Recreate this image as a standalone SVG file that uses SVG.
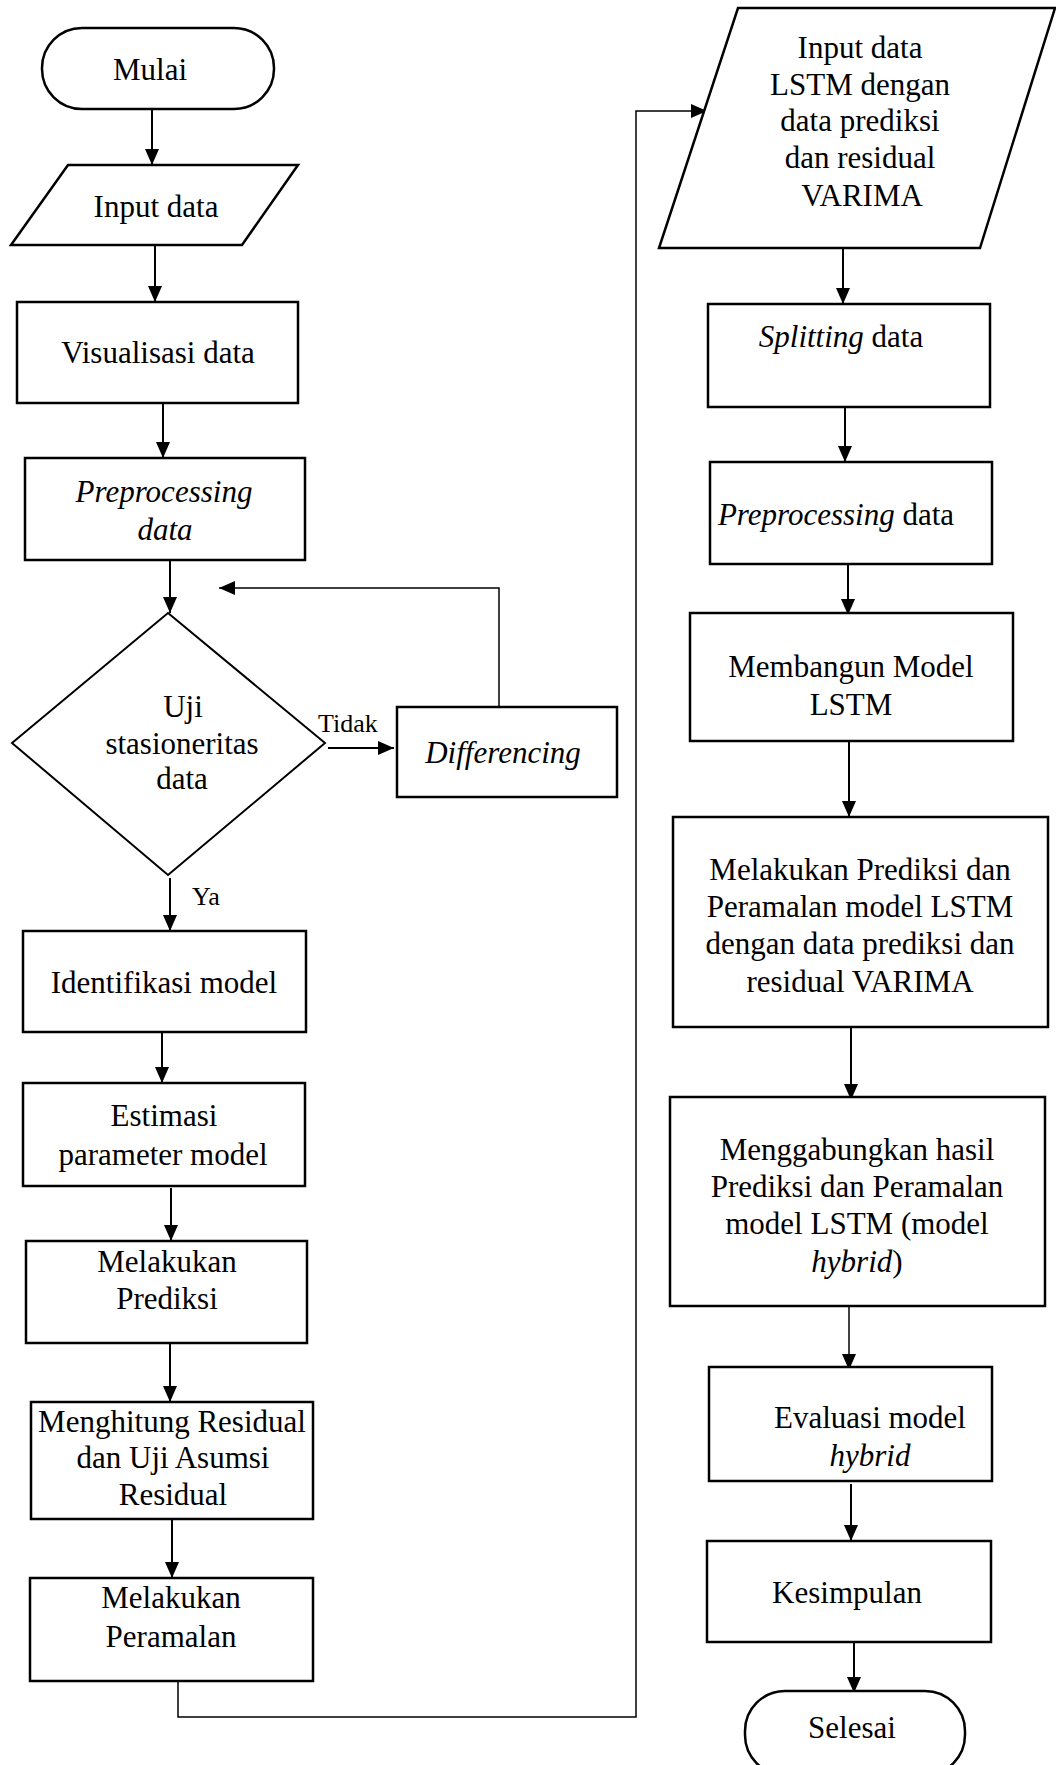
<svg xmlns="http://www.w3.org/2000/svg" width="1056" height="1765" viewBox="0 0 1056 1765">
<style>
.sh{fill:#fff;stroke:#000;stroke-width:2.5}
.t{font-family:"Liberation Serif","Times New Roman",serif;font-size:31px;fill:#000;text-anchor:middle}
.s{font-family:"Liberation Serif","Times New Roman",serif;font-size:26px;fill:#000}
.i{font-style:italic}
.c{fill:none;stroke:#000;stroke-width:2}
.c1{fill:none;stroke:#000;stroke-width:1.5}
</style>
<defs>
<marker id="ah" viewBox="0 0 16 14" refX="16" refY="7" markerWidth="16" markerHeight="14" markerUnits="userSpaceOnUse" orient="auto">
<path d="M0,0 L16,7 L0,14 z" fill="#000"/>
</marker>
</defs>
<rect width="1056" height="1765" fill="#fff"/>
<g id="connectors">
<line class="c" x1="152" y1="109" x2="152" y2="165" marker-end="url(#ah)"/>
<line class="c" x1="155" y1="245" x2="155" y2="302" marker-end="url(#ah)"/>
<line class="c" x1="163" y1="403" x2="163" y2="458" marker-end="url(#ah)"/>
<line class="c" x1="170" y1="560" x2="170" y2="613" marker-end="url(#ah)"/>
<line class="c" x1="328" y1="748" x2="394" y2="748" marker-end="url(#ah)"/>
<polyline class="c1" points="499,707 499,588 219,588" marker-end="url(#ah)"/>
<line class="c" x1="170" y1="878" x2="170" y2="931" marker-end="url(#ah)"/>
<line class="c" x1="162" y1="1026" x2="162" y2="1083" marker-end="url(#ah)"/>
<line class="c" x1="171" y1="1188" x2="171" y2="1241" marker-end="url(#ah)"/>
<line class="c" x1="170" y1="1343" x2="170" y2="1402" marker-end="url(#ah)"/>
<line class="c" x1="172" y1="1515" x2="172" y2="1578" marker-end="url(#ah)"/>
<polyline class="c1" points="178,1681 178,1717 636,1717 636,111 707,111" marker-end="url(#ah)"/>
<line class="c" x1="843" y1="248" x2="843" y2="304" marker-end="url(#ah)"/>
<line class="c" x1="845" y1="407" x2="845" y2="462" marker-end="url(#ah)"/>
<line class="c" x1="848" y1="561" x2="848" y2="615" marker-end="url(#ah)"/>
<line class="c" x1="849" y1="741" x2="849" y2="817" marker-end="url(#ah)"/>
<line class="c" x1="851" y1="1027" x2="851" y2="1100" marker-end="url(#ah)"/>
<line class="c1" x1="849" y1="1306" x2="849" y2="1370" marker-end="url(#ah)"/>
<line class="c" x1="851" y1="1484" x2="851" y2="1541" marker-end="url(#ah)"/>
<line class="c" x1="854" y1="1640" x2="854" y2="1693" marker-end="url(#ah)"/>
</g>
<g id="mulai">
<rect class="sh" x="42" y="28" width="232" height="81" rx="40" ry="40"/>
<text class="t" x="150" y="80">Mulai</text>
</g>
<g id="input-data">
<polygon class="sh" points="68,165 298,165 242,245 11,245"/>
<text class="t" x="156" y="217">Input data</text>
</g>
<g id="visualisasi">
<rect class="sh" x="17" y="302" width="281" height="101"/>
<text class="t" x="158" y="363">Visualisasi data</text>
</g>
<g id="preprocessing1">
<rect class="sh" x="25" y="458" width="280" height="102"/>
<text class="t i" x="164" y="502">Preprocessing</text>
<text class="t i" x="165" y="540">data</text>
</g>
<g id="uji">
<polygon class="sh" style="stroke-width:2" points="168,613 325,743 168,875 12,743"/>
<text class="t" x="183" y="717">Uji</text>
<text class="t" x="182" y="754">stasioneritas</text>
<text class="t" x="182" y="789">data</text>
<text class="s" x="318" y="732">Tidak</text>
<text class="s" x="192" y="905">Ya</text>
</g>
<g id="differencing">
<rect class="sh" x="397" y="707" width="220" height="90"/>
<text class="t i" x="503" y="763">Differencing</text>
</g>
<g id="identifikasi">
<rect class="sh" x="23" y="931" width="283" height="101"/>
<text class="t" x="164" y="993">Identifikasi model</text>
</g>
<g id="estimasi">
<rect class="sh" x="23" y="1083" width="282" height="103"/>
<text class="t" x="164" y="1126">Estimasi</text>
<text class="t" x="163" y="1165">parameter model</text>
</g>
<g id="prediksi">
<rect class="sh" x="26" y="1241" width="281" height="102"/>
<text class="t" x="167" y="1272">Melakukan</text>
<text class="t" x="167" y="1309">Prediksi</text>
</g>
<g id="residual">
<rect class="sh" x="31" y="1402" width="282" height="117"/>
<text class="t" x="172" y="1432">Menghitung Residual</text>
<text class="t" x="173" y="1468">dan Uji Asumsi</text>
<text class="t" x="173" y="1505">Residual</text>
</g>
<g id="peramalan">
<rect class="sh" x="30" y="1578" width="283" height="103"/>
<text class="t" x="171" y="1608">Melakukan</text>
<text class="t" x="171" y="1647">Peramalan</text>
</g>
<g id="input-lstm">
<polygon class="sh" points="738,8 1055,8 980,248 659,248"/>
<text class="t" x="860" y="58">Input data</text>
<text class="t" x="860" y="95">LSTM dengan</text>
<text class="t" x="860" y="131">data prediksi</text>
<text class="t" x="860" y="168">dan residual</text>
<text class="t" x="862" y="206">VARIMA</text>
</g>
<g id="splitting">
<rect class="sh" x="708" y="304" width="282" height="103"/>
<text class="t" x="841" y="347"><tspan class="i">Splitting</tspan> data</text>
</g>
<g id="preprocessing2">
<rect class="sh" x="710" y="462" width="282" height="102"/>
<text class="t" x="836" y="525"><tspan class="i">Preprocessing</tspan> data</text>
</g>
<g id="membangun">
<rect class="sh" x="690" y="613" width="323" height="128"/>
<text class="t" x="851" y="677">Membangun Model</text>
<text class="t" x="851" y="715">LSTM</text>
</g>
<g id="prediksi-lstm">
<rect class="sh" x="673" y="817" width="375" height="210"/>
<text class="t" x="860" y="880">Melakukan Prediksi dan</text>
<text class="t" x="860" y="917">Peramalan model LSTM</text>
<text class="t" x="860" y="954">dengan data prediksi dan</text>
<text class="t" x="860" y="992">residual VARIMA</text>
</g>
<g id="menggabungkan">
<rect class="sh" x="670" y="1097" width="375" height="209"/>
<text class="t" x="857" y="1160">Menggabungkan hasil</text>
<text class="t" x="857" y="1197">Prediksi dan Peramalan</text>
<text class="t" x="857" y="1234">model LSTM (model</text>
<text class="t" x="857" y="1272"><tspan class="i">hybrid</tspan>)</text>
</g>
<g id="evaluasi">
<rect class="sh" x="709" y="1367" width="283" height="114"/>
<text class="t" x="870" y="1428">Evaluasi model</text>
<text class="t i" x="870" y="1466">hybrid</text>
</g>
<g id="kesimpulan">
<rect class="sh" x="707" y="1541" width="284" height="101"/>
<text class="t" x="847" y="1603">Kesimpulan</text>
</g>
<g id="selesai">
<rect class="sh" x="745" y="1691" width="220" height="84" rx="40" ry="40"/>
<text class="t" x="852" y="1738">Selesai</text>
</g>
</svg>
